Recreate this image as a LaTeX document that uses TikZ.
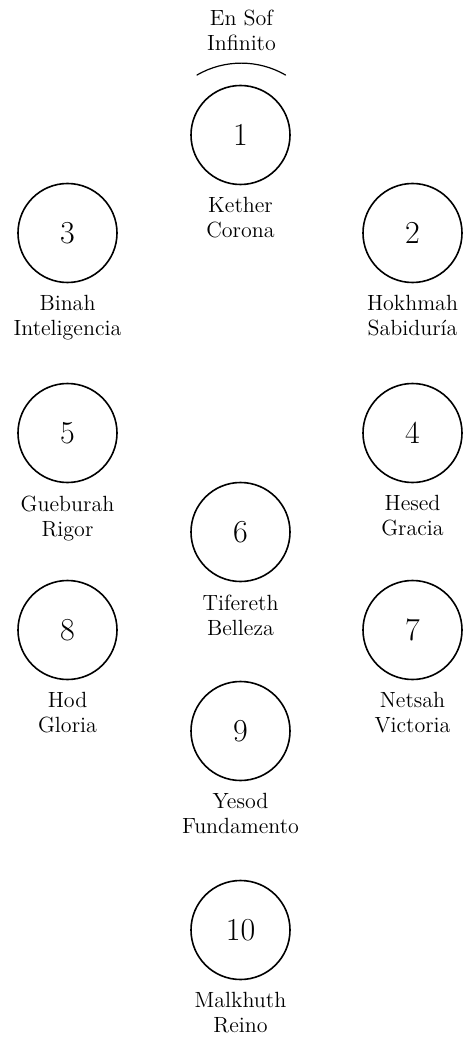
\documentclass[tikz,border=0pt]{standalone}
\usetikzlibrary{positioning}
\begin{document}
\begin{tikzpicture}[x=0.5pt,y=-0.5pt,line join=round,line cap=round,
    sefira/.style={draw,circle,line width=0.8pt,minimum size=49.5pt,inner sep=0pt,font=\fontsize{16}{18}\selectfont},
    nombre/.style={align=center,inner sep=0pt,font=\fontsize{11}{12.5}\selectfont}]
  \useasboundingbox (0,0) rectangle (465,1037);
  % las diez sefirot
  \node[sefira] (c1) at (240.5,135) {1};
  \node[sefira] (c2) at (412.5,233) {2};
  \node[sefira] (c3) at (67.5,233) {3};
  \node[sefira] (c4) at (412.5,433) {4};
  \node[sefira] (c5) at (67.5,433) {5};
  \node[sefira] (c6) at (240.5,532) {6};
  \node[sefira] (c7) at (412.5,630) {7};
  \node[sefira] (c8) at (67.5,630) {8};
  \node[sefira] (c9) at (240.5,731) {9};
  \node[sefira] (c10) at (240.5,930) {10};
  % nombres
  \node[nombre,below=6pt of c1] (kether) {Kether\\Corona};
  \node[nombre,below=6pt of c2] (hokhmah) {Hokhmah\\Sabiduría};
  \node[nombre,below=6pt of c3] (binah) {Binah\\Inteligencia};
  \node[nombre,below=6pt of c4] (hesed) {Hesed\\Gracia};
  \node[nombre,below=6pt of c5] (gueburah) {Gueburah\\Rigor};
  \node[nombre,below=6pt of c6] (tifereth) {Tifereth\\Belleza};
  \node[nombre,below=6pt of c7] (netsah) {Netsah\\Victoria};
  \node[nombre,below=6pt of c8] (hod) {Hod\\Gloria};
  \node[nombre,below=6pt of c9] (yesod) {Yesod\\Fundamento};
  \node[nombre,below=6pt of c10] (malkhuth) {Malkhuth\\Reino};
  % En Sof
  \coordinate (arcl) at (197,75);
  \draw[line width=0.6pt] (arcl) arc[start angle=240,end angle=300,radius=88.5];
  \node[nombre,anchor=south] (ensof) at (241.5,51) {En Sof\\Infinito};
\end{tikzpicture}
\end{document}
